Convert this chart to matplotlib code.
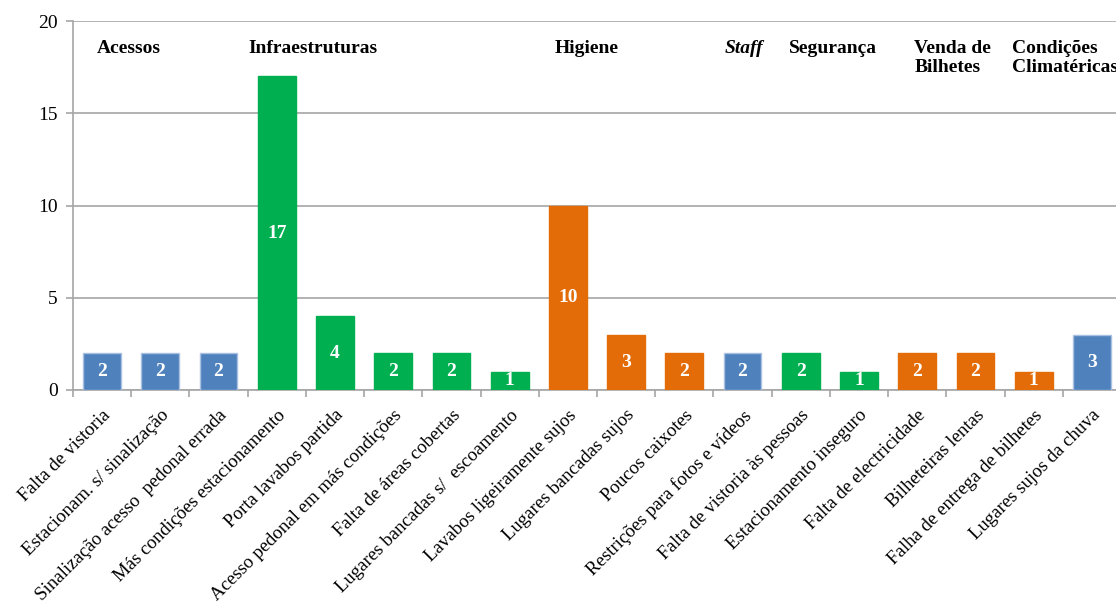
import matplotlib
matplotlib.use("Agg")
import matplotlib.pyplot as plt
import numpy as np

plt.rcParams['font.family'] = ['Liberation Serif', 'DejaVu Serif']

categories = [
    "Falta de vistoria", "Estacionam. s/ sinalização", "Sinalização acesso  pedonal errada",
    "Más condições estacionamento", "Porta lavabos partida", "Acesso pedonal em más condições",
    "Falta de áreas cobertas", "Lugares bancadas s/  escoamento", "Lavabos ligeiramente sujos",
    "Lugares bancadas sujos", "Poucos caixotes", "Restrições para fotos e vídeos",
    "Falta de vistoria às pessoas", "Estacionamento inseguro", "Falta de electricidade",
    "Bilheteiras lentas", "Falha de entrega de bilhetes", "Lugares sujos da chuva",
]
values = [2, 2, 2, 17, 4, 2, 2, 1, 10, 3, 2, 2, 2, 1, 2, 2, 1, 3]
groups = ["Acessos", "Infraestruturas", "Higiene", "Staff", "Segurança",
          "Venda de\nBilhetes", "Condições\nClimatéricas"]
group_sizes = [3, 5, 3, 1, 2, 3, 1]

group_colors = ["#4F81BD", "#00B050", "#E36C09"]
group_edges = ["#A9C1E0", "#00B050", "#E36C09"]

bar_colors, bar_edges = [], []
for gi, n in enumerate(group_sizes):
    bar_colors += [group_colors[gi % 3]] * n
    bar_edges += [group_edges[gi % 3]] * n

fig = plt.figure(figsize=(11.16, 6.03), dpi=100)
ax = fig.add_axes([73/1116, 1-390/603, 1048/1116, 369/603])

x = np.arange(len(categories))
bars = ax.bar(x, values, width=0.65, color=bar_colors, edgecolor=bar_edges, linewidth=1, zorder=3)

for xi, v in zip(x, values):
    ax.text(xi, v/2, str(v), ha='center', va='center', color='white',
            fontsize=14, fontweight='bold', zorder=4)

ax.set_xlim(-0.5, len(categories)-0.5)
ax.set_ylim(0, 20)
ax.set_yticks([0, 5, 10, 15, 20])
ax.grid(axis='y', color='#A6A6A6', linewidth=1.2, zorder=0)
ax.tick_params(axis='y', labelsize=14, length=5, color='#A6A6A6', width=1.2, pad=6)

ax.set_xticks(x)
ax.set_xticklabels(categories, rotation=45, ha='right', rotation_mode='anchor', fontsize=13.6)
ax.tick_params(axis='x', which='major', length=0, pad=12)
ax.set_xticks(np.arange(-0.5, len(categories)), minor=True)
ax.tick_params(axis='x', which='minor', length=5, color='#A6A6A6', width=1.2)

for s in ['top', 'right']:
    ax.spines[s].set_visible(False)
for s in ['left', 'bottom']:
    ax.spines[s].set_color('#A6A6A6')
    ax.spines[s].set_linewidth(1.2)

label_x = [-0.09, 2.51, 7.78, 10.69, 11.80, 13.95, 15.63]
for gx, g in zip(label_x, groups):
    style = 'italic' if g == "Staff" else 'normal'
    ax.text(gx, 18.95, g, ha='left', va='top', fontsize=14, fontweight='bold',
            fontstyle=style, linespacing=1.1, clip_on=False)

fig.savefig("out.png", dpi=100)
